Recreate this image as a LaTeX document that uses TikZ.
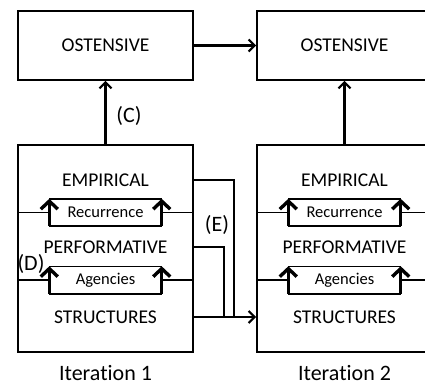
\documentclass[tikz,border=0pt]{standalone}
\usepackage{fontspec}
\setmainfont{Carlito}[Ligatures=NoCommon]
\usetikzlibrary{arrows.meta}

\tikzset{
  box/.style={draw, line width=1.6pt, minimum width=175pt, minimum height=69pt,
    font=\fontsize{19.5}{21}\selectfont},
  bigbox/.style={draw, line width=1.6pt, minimum width=175pt, minimum height=207pt},
  layer/.style={font=\fontsize{19.5}{21}\selectfont},
  inner/.style={minimum width=112pt, minimum height=27pt, inner sep=0pt,
    font=\fontsize{16.5}{18}\selectfont},
  tag/.style={font=\fontsize{22}{24}\selectfont},
  flow/.style={line width=2.2pt, -{Straight Barb[length=6pt,width=12pt]}},
  link/.style={line width=2.2pt},
  thin/.style={line width=1.6pt},
  lift/.style={line width=3.4pt, -{Straight Barb[length=8pt,width=17pt]}}
}

\begin{document}
\begin{tikzpicture}[x=1pt,y=-1pt]
        % page size of the reference
        \useasboundingbox (0,0) rectangle (425,388);
        \clip (0,0) rectangle (425,388);

        % one column per iteration
        \foreach \i/\x in {1/105.5,2/344.5} {
            \node[box] (ost\i) at (\x,45.5) {OSTENSIVE};
            \node[bigbox] (it\i) at (\x,248.5) {};
            \node[layer] (emp\i) at (\x,180) {EMPIRICAL};
            \node[layer] (perf\i) at (\x,247) {PERFORMATIVE};
            \node[layer] (str\i) at (\x,317) {STRUCTURES};
            \node[inner] (rec\i) at (\x,212.5) {Recurrence};
            \node[inner] (ag\i) at (\x,280) {Agencies};
            \node[tag, inner sep=1pt] (lab\i) at (\x,373) {Iteration \i};

            % inner boxes: top and bottom edges, arrows as sides
            \foreach \b in {rec\i,ag\i} {
                \draw[thin] (\b.north west) -- (\b.north east);
                \draw[thin] (\b.south west) -- (\b.south east);
                \draw[thin] (it\i.west |- \b) -- (\b.west);
                \draw[thin] (\b.east) -- (it\i.east |- \b);
                \draw[lift] (\b.south west) -- (\b.north west);
                \draw[lift] (\b.south east) -- (\b.north east);
            }

            % up to the ostensive box
            \draw[flow] (it\i) -- (ost\i);
        }

        % labels
        \node[tag] (c) at (129,116) {(C)};
        \node[tag] (d) at (31,264) {(D)};
        \node[tag] (e) at (217,225) {(E)};

        % ostensive to ostensive
        \draw[flow] (ost1) -- (ost2);

        % (E) lines into the next structures
        \coordinate (e1) at (234,317);
        \coordinate (e2) at (224,317);
        \draw[link] (it1.east |- emp1) -| (e1);
        \draw[link] (it1.east |- perf1) -| (e2);
        \draw[flow] (it1.east |- str1) -- (it2.west |- str1);
    \end{tikzpicture}
\end{document}
